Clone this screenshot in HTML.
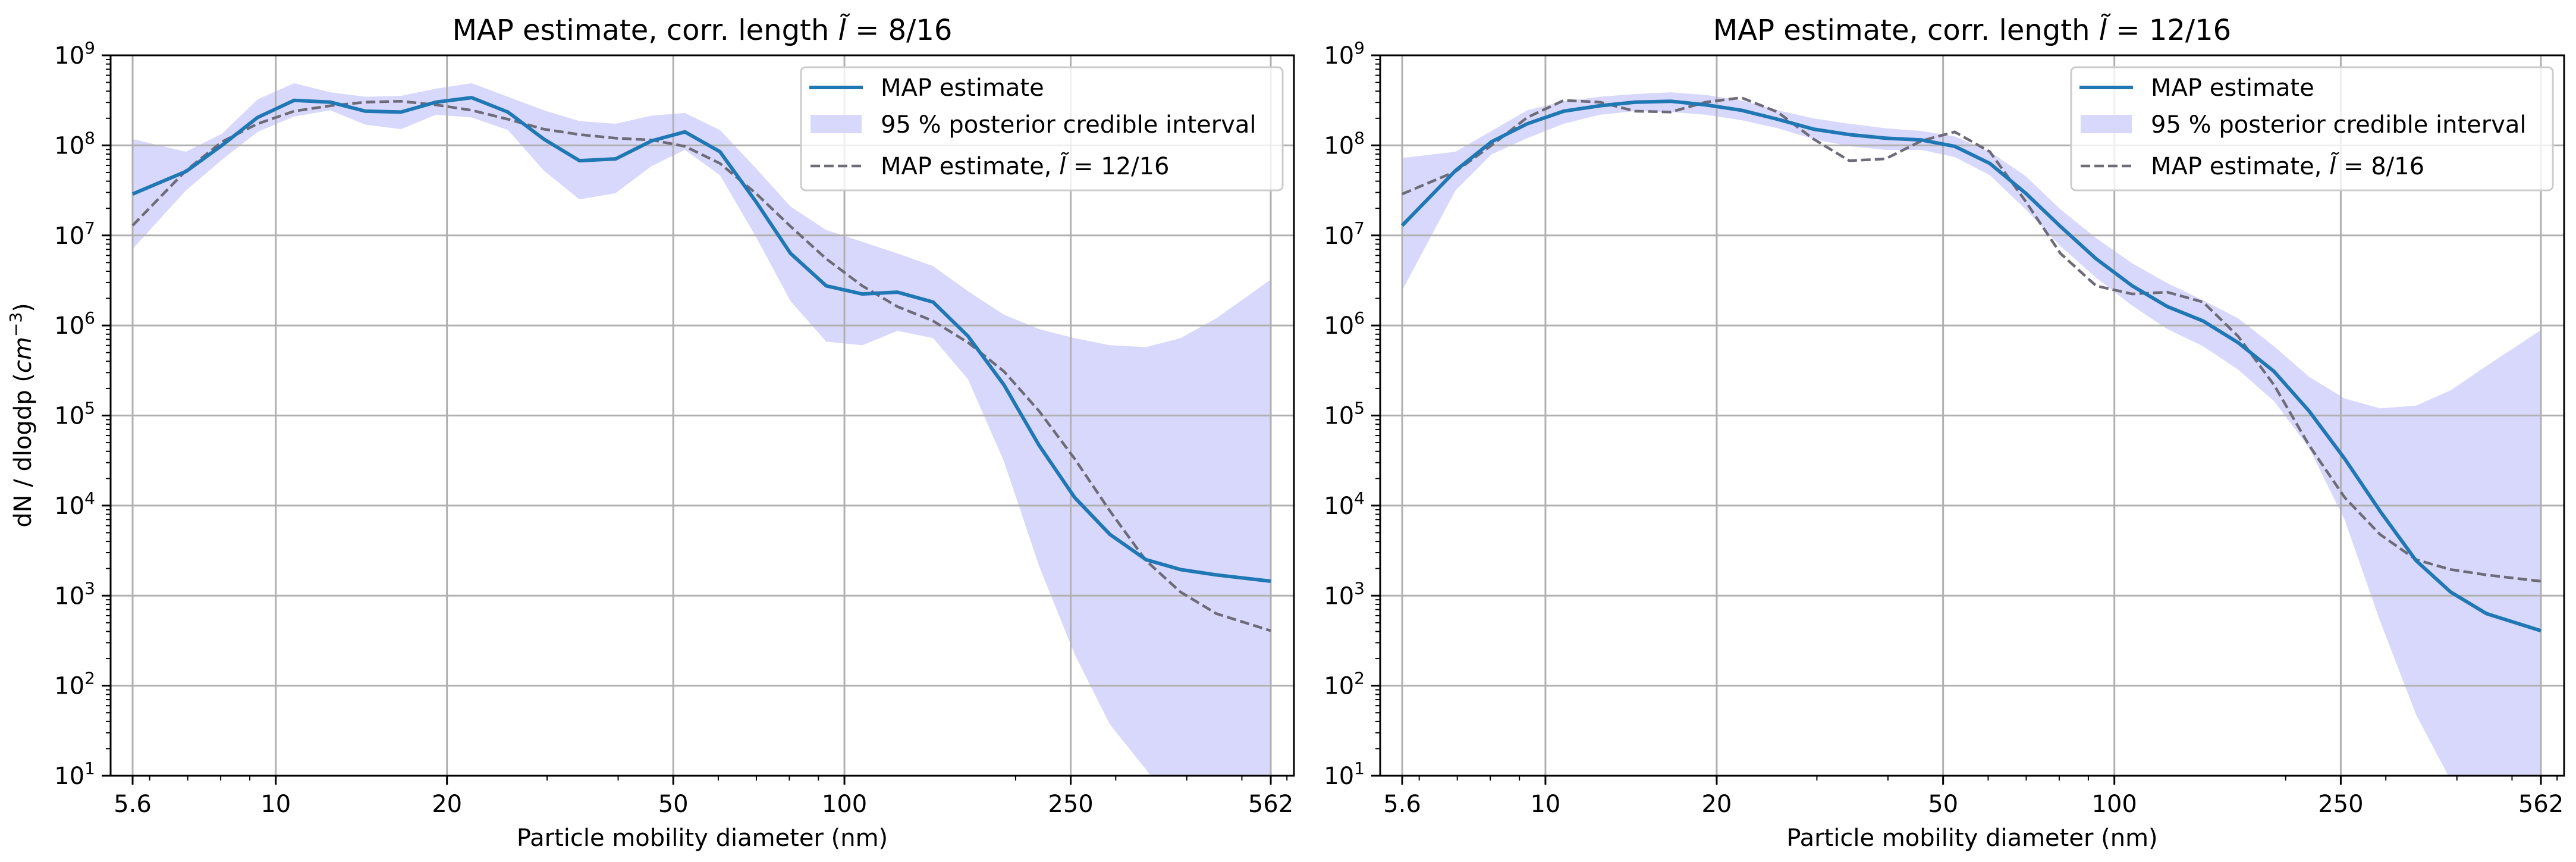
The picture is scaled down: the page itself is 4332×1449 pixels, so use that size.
<!DOCTYPE html>
<html><head><meta charset="utf-8"><style>
html,body{margin:0;padding:0;background:#fff;overflow:hidden;width:4332px;height:1449px;}
svg{display:block;font-family:"DejaVu Sans","Liberation Sans",sans-serif;overflow:hidden;}
</style></head><body>
<svg id="fig" width="4332" height="1449" viewBox="0 0 4332 1449" xmlns="http://www.w3.org/2000/svg"></svg>
<script>
const diameters = [5.6,6.95,8.04,9.29,10.77,12.47,14.37,16.6,19.13,22.1,25.6,29.6,34.2,39.6,45.8,52.4,60.4,69.8,80.4,92.9,107.5,123.9,143.2,165,190.8,219.9,254,293,339,390,451,562];
// log10 values
const mapA = [7.46,7.71,8.0,8.31,8.50,8.48,8.38,8.37,8.48,8.53,8.37,8.07,7.83,7.85,8.05,8.15,7.93,7.38,6.80,6.44,6.35,6.37,6.26,5.88,5.34,4.67,4.09,3.68,3.40,3.29,3.23,3.16];
const mapB = [7.11,7.72,8.04,8.24,8.38,8.44,8.48,8.49,8.45,8.39,8.29,8.18,8.12,8.08,8.06,7.99,7.80,7.47,7.10,6.74,6.44,6.21,6.05,5.81,5.49,5.05,4.52,3.94,3.39,3.04,2.80,2.61];
const bandAHi = [8.07,7.93,8.13,8.51,8.69,8.59,8.54,8.55,8.63,8.69,8.54,8.39,8.27,8.24,8.33,8.36,8.17,7.75,7.32,7.06,6.93,6.80,6.66,6.38,6.12,5.96,5.86,5.78,5.76,5.86,6.08,6.51];
const bandALo = [6.85,7.50,7.84,8.15,8.32,8.39,8.23,8.18,8.34,8.31,8.17,7.72,7.40,7.47,7.77,7.95,7.67,6.99,6.27,5.82,5.78,5.94,5.86,5.40,4.49,3.33,2.35,1.57,1.07,0.58,0.15,-0.45];
const bandBHi = [7.86,7.93,8.16,8.39,8.49,8.54,8.57,8.59,8.56,8.50,8.39,8.30,8.24,8.19,8.16,8.10,7.93,7.66,7.29,6.97,6.69,6.47,6.28,6.08,5.77,5.43,5.19,5.08,5.11,5.28,5.55,5.95];
const bandBLo = [6.39,7.50,7.90,8.08,8.24,8.34,8.38,8.37,8.34,8.28,8.19,8.07,7.99,7.95,7.95,7.87,7.67,7.29,6.88,6.53,6.22,5.96,5.77,5.51,5.16,4.64,3.84,2.72,1.68,0.95,0.15,-0.76];
const xMajorTicks = [5.6,10,20,50,100,250,562];
const xMajorLabels = ["5.6","10","20","50","100","250","562"];
const xMinorTicks = [6,7,8,9,30,40,60,70,80,90,200,300,400,500,600];
const yDecades = [1,2,3,4,5,6,7,8,9];

const NS="http://www.w3.org/2000/svg";
const svg=document.getElementById('fig');
function mk(tag,attrs,parent){const e=document.createElementNS(NS,tag);for(const k in attrs)e.setAttribute(k,attrs[k]);(parent||svg).appendChild(e);return e;}

function panel(p){
  const g=mk('g',{});
  
  
  const L=p.left,R=p.right,T=93,B=1304;
  const x0=p.x56, pxDec=(p.x562-p.x56)/Math.log10(562/5.6);
  const X=d=>x0+Math.log10(d/5.6)*pxDec;
  const Y=v=>T+(9-v)*(B-T)/8;
  const Yc=v=>Y(Math.max(v,0.5));
  const clip=mk('clipPath',{id:'clip'+p.id},g);
  mk('rect',{x:L,y:T,width:R-L,height:B-T},clip);
  const plot=mk('g',{'clip-path':'url(#clip'+p.id+')'},g);
  let pts=diameters.map((d,i)=>X(d)+','+Yc(p.hi[i]));
  for(let i=diameters.length-1;i>=0;i--)pts.push(X(diameters[i])+','+Yc(p.lo[i]));
  const band=mk('polygon',{points:pts.join(' '),fill:'#d8d8fc',stroke:'none'},plot);
  
  
  xMajorTicks.forEach(t=>{const l=mk('line',{x1:X(t),x2:X(t),y1:T,y2:B,stroke:'#b0b0b0','stroke-width':3},plot);
    
    });
  yDecades.forEach(v=>{const l=mk('line',{x1:L,x2:R,y1:Y(v),y2:Y(v),stroke:'#b0b0b0','stroke-width':3},plot);
    
    });
  const dl=mk('polyline',{points:diameters.map((d,i)=>X(d)+','+Yc(p.other[i])).join(' '),fill:'none',stroke:'#6e6b78','stroke-width':4.5,'stroke-dasharray':'16,7'},plot);
  
  
  const ml=mk('polyline',{points:diameters.map((d,i)=>X(d)+','+Yc(p.main[i])).join(' '),fill:'none',stroke:'#1f77b4','stroke-width':6,'stroke-linejoin':'round'},plot);
  
  
  const fr=mk('rect',{x:L,y:T,width:R-L,height:B-T,fill:'none',stroke:'#000','stroke-width':3},g);
  
  
  xMajorTicks.forEach((t,i)=>{
    mk('line',{x1:X(t),x2:X(t),y1:B,y2:B+15,stroke:'#000','stroke-width':3},g);
    const tx=mk('text',{x:X(t),y:1365,'font-size':40,'text-anchor':'middle'},g);
    tx.textContent=xMajorLabels[i];
    
    
  });
  xMinorTicks.forEach(t=>{const x=X(t); if(x>L&&x<R) mk('line',{x1:x,x2:x,y1:B,y2:B+8,stroke:'#000','stroke-width':2},g);});
  yDecades.forEach(v=>{
    mk('line',{x1:L-15,x2:L,y1:Y(v),y2:Y(v),stroke:'#000','stroke-width':3},g);
    if(v<9){for(let m=2;m<=9;m++){const yy=Y(v+Math.log10(m));mk('line',{x1:L-8,x2:L,y1:yy,y2:yy,stroke:'#000','stroke-width':2},g);}}
    const tx=mk('text',{x:L-26,y:Y(v)+14,'font-size':40,'text-anchor':'end'},g);
    
    
    const a=mk('tspan',{},tx);a.textContent='10';
    const b=mk('tspan',{dy:-17,'font-size':28},tx);b.textContent=String(v);
  });
  const cx=(L+R)/2;
  const ti=mk('text',{x:cx,y:67,'font-size':48,'text-anchor':'middle'},g);
  
  
  ti.appendChild(document.createTextNode('MAP estimate, corr. length '));
  const it=mk('tspan',{'font-style':'italic'},ti);it.textContent='l\u0303';
  ti.appendChild(document.createTextNode(' = '+p.len));
  const xl=mk('text',{x:cx,y:1422,'font-size':40,'text-anchor':'middle'},g);
  xl.textContent='Particle mobility diameter (nm)';
  
  
  const lx=p.legX, ly=113, lw=810, lh=207;
  const lg=mk('g',{},g);
  
  
  mk('rect',{x:lx,y:ly,width:lw,height:lh,rx:8,fill:'#fff','fill-opacity':0.8,stroke:'#cccccc','stroke-width':3},lg);
  mk('line',{x1:lx+14,x2:lx+104,y1:147,y2:147,stroke:'#1f77b4','stroke-width':6},lg);
  mk('rect',{x:lx+16,y:193,width:86,height:31,fill:'#d8d8fc'},lg);
  mk('line',{x1:lx+16,x2:lx+104,y1:279,y2:279,stroke:'#6e6b78','stroke-width':4.5,'stroke-dasharray':'16,7'},lg);
  const t1=mk('text',{x:lx+134,y:161,'font-size':40},lg);t1.textContent='MAP estimate';
  
  
  const t2=mk('text',{x:lx+134,y:223,'font-size':40},lg);t2.textContent='95 % posterior credible interval';
  
  
  const t3=mk('text',{x:lx+134,y:293,'font-size':40},lg);
  
  
  t3.appendChild(document.createTextNode('MAP estimate, '));
  const i3=mk('tspan',{'font-style':'italic'},t3);i3.textContent='l\u0303';
  t3.appendChild(document.createTextNode(' = '+p.otherLen));
}
panel({id:1,name:'left-panel',left:186,right:2176,x56:223,x562:2137,main:mapA,other:mapB,hi:bandAHi,lo:bandALo,len:'8/16',otherLen:'12/16',legX:1347});
panel({id:2,name:'right-panel',left:2321,right:4312,x56:2358,x562:4273,main:mapB,other:mapA,hi:bandBHi,lo:bandBLo,len:'12/16',otherLen:'8/16',legX:3483});
const yl=mk('text',{x:0,y:0,'font-size':40,'text-anchor':'middle',transform:'translate(52,698) rotate(-90)'});


yl.appendChild(document.createTextNode('dN / dlogdp ('));
const c1=mk('tspan',{'font-style':'italic'},yl);c1.textContent='cm';
const c2=mk('tspan',{dy:-16,'font-size':28},yl);c2.textContent='\u22123';
const c3=mk('tspan',{dy:16},yl);c3.textContent=')';
</script>
</body></html>
